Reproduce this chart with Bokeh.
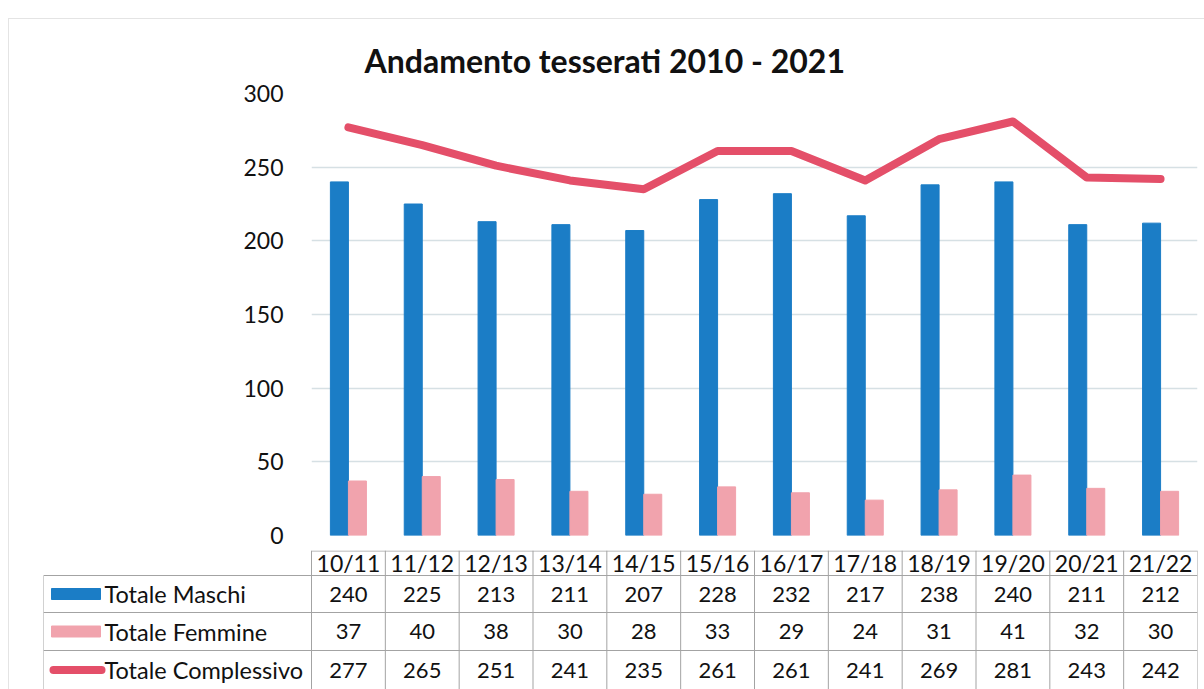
from bokeh.plotting import figure
from bokeh.models import ColumnDataSource, Range1d, FixedTicker
from bokeh.layouts import column, row
from bokeh.transform import dodge
from bokeh.embed import file_html
from bokeh.resources import INLINE

# ---------------- data ----------------
seasons = ["10/11", "11/12", "12/13", "13/14", "14/15", "15/16",
           "16/17", "17/18", "18/19", "19/20", "20/21", "21/22"]
maschi = [240, 225, 213, 211, 207, 228, 232, 217, 238, 240, 211, 212]
femmine = [37, 40, 38, 30, 28, 33, 29, 24, 31, 41, 32, 30]
complessivo = [277, 265, 251, 241, 235, 261, 261, 241, 269, 281, 243, 242]
series_names = ["Totale Maschi", "Totale Femmine", "Totale Complessivo"]
y_ticks = [0, 50, 100, 150, 200, 250, 300]
title_text = "Andamento tesserati 2010 - 2021"

# ---------------- style ----------------
BLUE = "#1b7dc6"
PINK = "#f1a3ad"
RED = "#e44f69"
GRID = "#d6e0e4"
TABLE_LINE = "#a3a3a3"
TXT = "#111111"
FONT = "Lato"

n = len(seasons)
xc = [i + 0.5 for i in range(n)]
src = ColumnDataSource(dict(x=xc, season=seasons, m=maschi, f=femmine,
                            c=complessivo))

# layout geometry (pixels)
FRAME_W = 886
colw = FRAME_W / n
legend_w = 268
L = legend_w / colw

# ---------------- chart ----------------
p1 = figure(width=1196, height=531, x_range=Range1d(0, n),
            y_range=Range1d(0, 300), x_axis_location=None,
            output_backend="svg", toolbar_location=None,
            min_border_left=302, min_border_right=8,
            min_border_top=74, min_border_bottom=15)
p1.outline_line_color = None
p1.xgrid.visible = False
p1.ygrid.ticker = FixedTicker(ticks=y_ticks)
p1.ygrid.grid_line_color = GRID
p1.ygrid.grid_line_width = 1.5
p1.yaxis.ticker = FixedTicker(ticks=y_ticks)
p1.yaxis.axis_line_color = None
p1.yaxis.major_tick_line_color = None
p1.yaxis.minor_tick_line_color = None
p1.yaxis.major_label_standoff = 22
p1.yaxis.major_label_text_font = FONT
p1.yaxis.major_label_text_font_size = "23px"
p1.yaxis.major_label_text_color = TXT

p1.title.text = title_text
p1.title.text_font = FONT
p1.title.text_font_size = "32px"
p1.title.text_font_style = "bold"
p1.title.text_color = TXT
p1.title.align = "left"
p1.title.offset = 53
p1.title.standoff = 27

p1.vbar(x=dodge("x", -0.122, range=p1.x_range), top="m", width=0.244,
        source=src, color=BLUE)
p1.vbar(x=dodge("x", 0.122, range=p1.x_range), top="f", width=0.244,
        source=src, color=PINK)
p1.line(x="x", y="c", source=src, color=RED, line_width=8,
        line_cap="round", line_join="round")

# ---------------- data table ----------------
TABLE_H = 139
edges = [0, 25, 62, 100, TABLE_H]          # row boundaries (px from top)
mids = [(edges[i] + edges[i + 1]) / 2 for i in range(4)]

p2 = figure(width=1196, height=TABLE_H, x_range=Range1d(-L, n),
            y_range=Range1d(TABLE_H, 0), x_axis_location=None,
            y_axis_location=None, output_backend="svg",
            toolbar_location=None, min_border_left=34, min_border_right=8,
            min_border_top=0, min_border_bottom=0)
p2.outline_line_color = None
p2.grid.visible = False

# horizontal lines
hx0 = [0, -L, -L, -L]
hx1 = [n, n, n, n]
hy = [edges[0] + 0.5, edges[1], edges[2], edges[3]]
p2.segment(x0=hx0, y0=hy, x1=hx1, y1=hy, line_color=TABLE_LINE, line_width=1)
# vertical lines
vx = list(range(n + 1)) + [-L]
vy0 = [0] * (n + 1) + [edges[1]]
vy1 = [TABLE_H + 5] * (n + 2)
p2.segment(x0=vx, y0=vy0, x1=vx, y1=vy1, line_color=TABLE_LINE, line_width=1)

txt_kw = dict(text_align="center", text_baseline="middle",
              text_color=TXT, text_font={"value": FONT})
p2.text(x=xc, y=[mids[0]] * n, text=seasons, text_font_size="23px", **txt_kw)
for k, vals in enumerate([maschi, femmine, complessivo]):
    p2.text(x=xc, y=[mids[k + 1]] * n, text=[str(v) for v in vals],
            text_font_size="22px", **txt_kw)

# legend keys
sx0 = -L + 8 / colw
sx1 = -L + 57 / colw
p2.rect(x=[(sx0 + sx1) / 2] * 2, y=[mids[1], mids[2]], width=sx1 - sx0,
        height=11, height_units="screen", color=[BLUE, PINK])
p2.segment(x0=[-L + 10 / colw], y0=[mids[3]], x1=[-L + 58 / colw],
           y1=[mids[3]], line_color=RED, line_width=8, line_cap="round")
p2.text(x=[-L + 61 / colw] * 3, y=mids[1:], text=series_names,
        text_font={"value": FONT}, text_align="left", text_baseline="middle",
        text_font_size="23.5px", text_color=TXT)

layout = column(p1, row(p2), spacing=0, margin=(18, 0, 0, 8),
                styles={"border-left": "1px solid #e4e4e4",
                        "border-top": "1px solid #e4e4e4"})

open("out.html", "w").write(file_html(layout, INLINE))
